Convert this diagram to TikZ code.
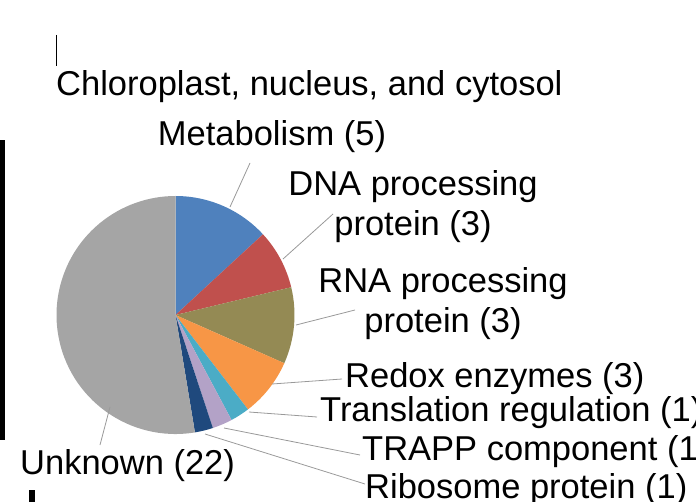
\documentclass[tikz,border=0pt]{standalone}
\usepackage{fontspec}
\setmainfont{Liberation Sans}
\definecolor{cBlue}{HTML}{4F81BD}
\definecolor{cRed}{HTML}{C0504D}
\definecolor{cOlive}{HTML}{948A54}
\definecolor{cOrange}{HTML}{F79646}
\definecolor{cCyan}{HTML}{4BACC6}
\definecolor{cLav}{HTML}{B3A2C7}
\definecolor{cNavy}{HTML}{1F497D}
\definecolor{cGray}{HTML}{A5A5A5}
\begin{document}
\begin{tikzpicture}[x=1pt,y=-1pt,
  lbl/.style={font=\fontsize{34.5}{40}\selectfont, inner sep=0pt},
  lead/.style={draw=gray!80, line width=0.8pt}]
\useasboundingbox (0,0) rectangle (696,502);
\clip (0,0) rectangle (696,502);
\def\cx{175.5}\def\cy{315}\def\r{119}
\newcommand{\slice}[3]{\fill[#3] (\cx,\cy) -- ++(#1:\r) arc[start angle=#1,end angle=#2,radius=\r] -- cycle;}
\slice{-90}{-42.7}{cBlue}
\slice{-42.7}{-13.5}{cRed}
\slice{-13.5}{23.9}{cOlive}
\slice{23.9}{52.5}{cOrange}
\slice{52.5}{61.9}{cCyan}
\slice{61.9}{71.7}{cLav}
\slice{71.7}{80.6}{cNavy}
\slice{80.6}{270}{cGray}
% decorations
\draw[line width=1pt] (56,35) -- (56,66);
\fill[black] (0,140) rectangle (5,440);
\fill[black] (29,490) rectangle (35,502);
% labels
\node[lbl, anchor=west] (title) at (56,87) {Chloroplast, nucleus, and cytosol};
\node[lbl] (met) at (272,137) {Metabolism (5)};
\node[lbl, align=center] (dna) at (413,207) {DNA processing\\protein (3)};
\node[lbl, align=center] (rna) at (443,304) {RNA processing\\protein (3)};
\node[lbl, anchor=west] (red) at (345,379) {Redox enzymes (3)};
\node[lbl, anchor=west] (tra) at (320,413) {Translation regulation (1)};
\node[lbl, anchor=west] (trp) at (362,452) {TRAPP component (1)};
\node[lbl, anchor=west] (rib) at (365,490) {Ribosome protein (1)};
\node[lbl, anchor=west] (unk) at (20,466) {Unknown (22)};
% leaders
\coordinate (pm) at (230,207); \coordinate (pmE) at (250,163);
\coordinate (pd) at (283,259); \coordinate (pdE) at (333,214);
\coordinate (pr) at (296,325); \coordinate (prE) at (355,310);
\coordinate (pe) at (272,384); \coordinate (peE) at (342,379);
\coordinate (pt) at (249,412); \coordinate (ptE) at (317,417);
\coordinate (pp) at (224,428); \coordinate (ppE) at (360,455);
\coordinate (pb) at (205,434); \coordinate (pbE) at (365,484);
\coordinate (pu) at (110,407); \coordinate (puE) at (100,445);
\draw[lead] (pm) -- (pmE);
\draw[lead] (pd) -- (pdE);
\draw[lead] (pr) -- (prE);
\draw[lead] (pe) -- (peE);
\draw[lead] (pt) -- (ptE);
\draw[lead] (pp) -- (ppE);
\draw[lead] (pb) -- (pbE);
\draw[lead] (pu) -- (puE);
\end{tikzpicture}
\end{document}
